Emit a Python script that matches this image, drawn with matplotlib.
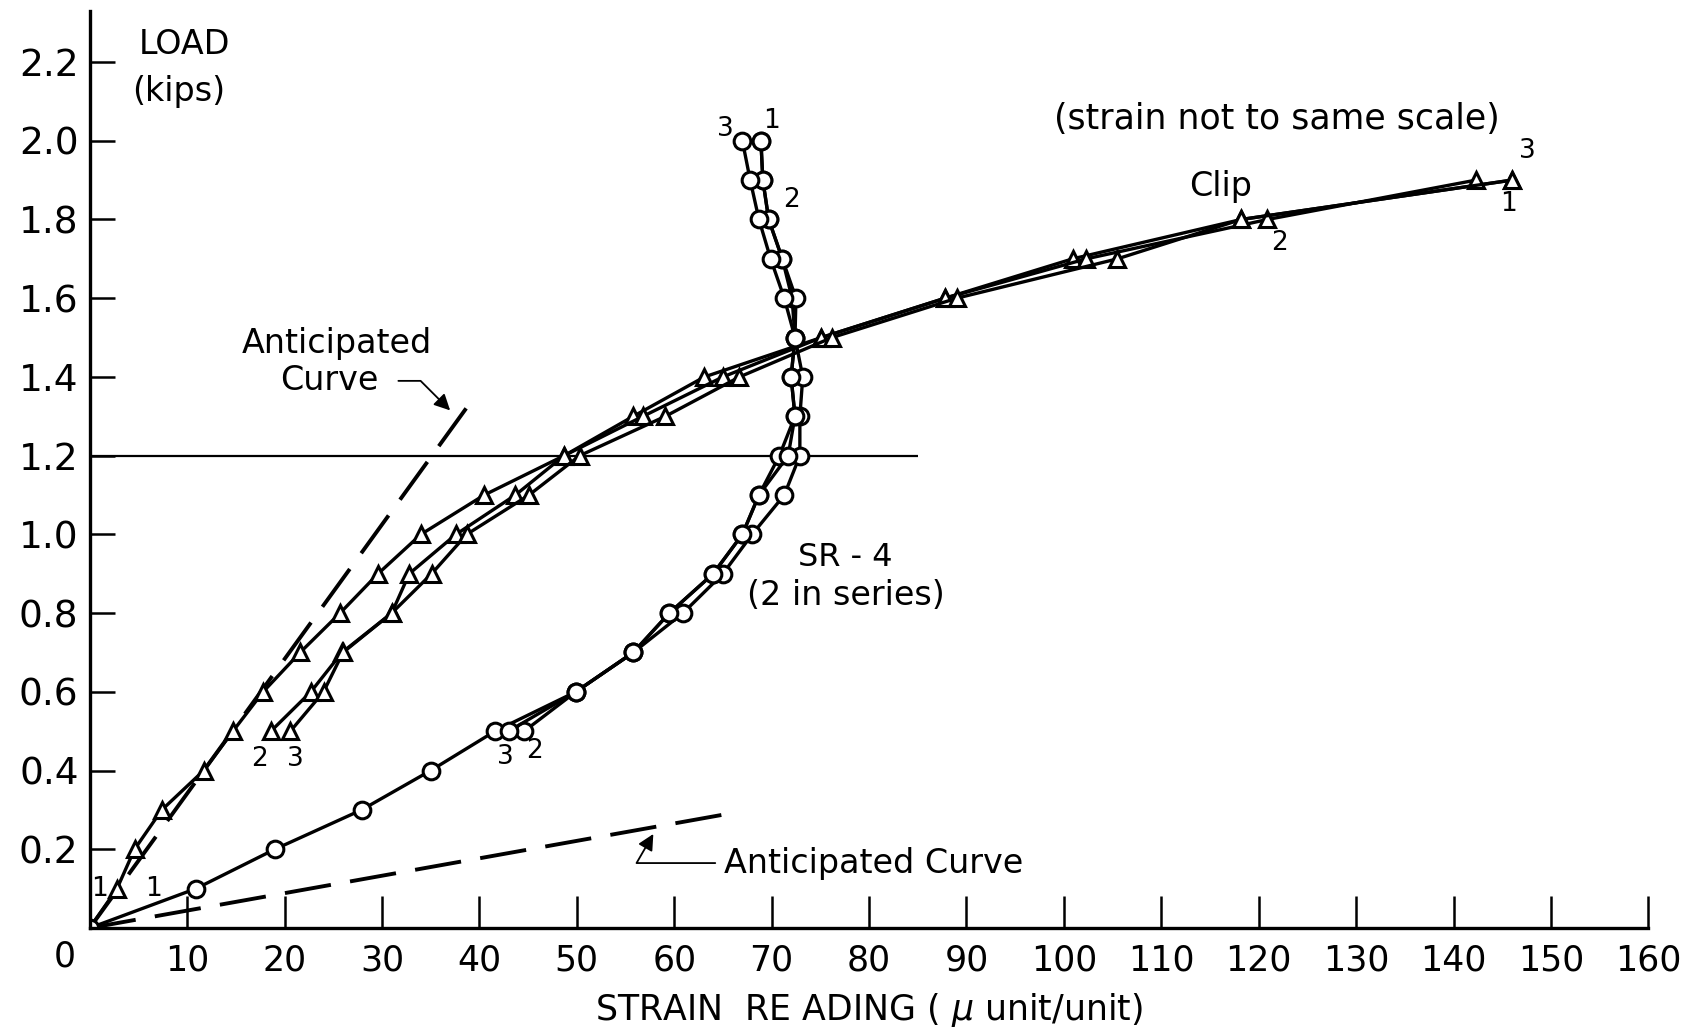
import numpy as np
import matplotlib.pyplot as plt

# load steps (kips)
load_full = [0, 0.1, 0.2, 0.3, 0.4, 0.5, 0.6, 0.7, 0.8, 0.9, 1.0,
             1.1, 1.2, 1.3, 1.4, 1.5, 1.6, 1.7, 1.8, 1.9, 2.0]

# Clip gage readings (triangles), cycles 1-3
clip_load1 = load_full[:20]
clip1 = [0, 2.8, 4.6, 7.4, 11.7, 14.7, 17.8, 21.6, 25.7, 29.6, 34.0,
         40.5, 48.7, 55.8, 63.1, 75.1, 87.8, 100.9, 118.2, 146.0]
clip_load23 = load_full[5:20]
clip2 = [18.6, 22.7, 25.9, 31.0, 32.8, 37.6, 43.7, 48.7, 56.8, 65.0,
         75.1, 87.8, 102.3, 120.9, 142.3]
clip3 = [20.6, 24.0, 26.0, 31.0, 35.1, 38.7, 45.1, 50.3, 59.1, 66.7,
         76.2, 89.0, 105.5, 118.2, 146.0]

# SR-4 gage readings (circles), cycles 1-3
sr_load1 = load_full
sr1 = [0, 10.9, 19.0, 27.9, 35.0, 41.6, 49.9, 55.8, 59.5, 64.0, 67.0,
       68.7, 70.8, 72.4, 72.0, 72.4, 72.1, 71.1, 69.7, 69.1, 68.9]
sr_load23 = load_full[5:]
sr2 = [44.6, 49.9, 55.8, 60.9, 65.0, 68.0, 71.3, 72.9, 72.9, 73.2,
       72.4, 72.5, 71.1, 69.7, 69.1, 68.9]
sr3 = [43.0, 49.9, 55.8, 59.5, 64.0, 67.0, 68.7, 71.7, 72.4, 72.0,
       72.4, 71.3, 69.9, 68.7, 67.8, 67.0]

# anticipated curves (straight dashed lines)
antic_steep_x = [0, 39.4]
antic_steep_y = [0, 1.346]
antic_flat_x = [0, 65.5]
antic_flat_y = [0, 0.29]

xticks = list(range(10, 170, 10))
yticks = [0.2, 0.4, 0.6, 0.8, 1.0, 1.2, 1.4, 1.6, 1.8, 2.0, 2.2]

plt.rcParams['font.family'] = ['DejaVu Sans']
narrow = ['Liberation Sans Narrow', 'DejaVu Sans']

fig = plt.figure(figsize=(16.96, 10.34), dpi=100)
ax = fig.add_axes([0.0529, 0.1025, 0.919, 0.887])
ax.set_xlim(0, 160)
ax.set_ylim(0, 2.33)

for s in ['top', 'right']:
    ax.spines[s].set_visible(False)
ax.spines['left'].set_linewidth(2.4)
ax.spines['bottom'].set_linewidth(2.4)

ax.set_xticks(xticks)
ax.set_xticklabels([str(t) for t in xticks], fontsize=25, family=narrow)
ax.set_yticks(yticks)
ax.set_yticklabels(['%.1f' % t for t in yticks], fontsize=27)
ax.tick_params(axis='x', direction='in', length=23, width=1.8, pad=11)
ax.tick_params(axis='y', direction='in', length=18, width=1.8, pad=8)
ax.text(-2.6, -0.03, '0', fontsize=25, ha='center', va='top', family=narrow)

ax.set_xlabel('STRAIN  RE ADING ( $\\mu$ unit/unit)', fontsize=25, labelpad=10,
              family=narrow)

# reference line at 1.2 kips
ax.hlines(1.2, 0, 85, color='black', lw=1.6)

# anticipated curves
ax.plot(antic_steep_x, antic_steep_y, color='black', lw=2.8, ls=(0, (12, 5)))
ax.plot(antic_flat_x, antic_flat_y, color='black', lw=2.8, ls=(0, (12, 5)))

mk = dict(color='black', lw=2.4, markersize=12, markerfacecolor='white',
          markeredgecolor='black', markeredgewidth=2.2)
ax.plot(clip1, clip_load1, marker='^', **mk)
ax.plot(clip2, clip_load23, marker='^', **mk)
ax.plot(clip3, clip_load23, marker='^', **mk)
ax.plot(sr1, sr_load1, marker='o', **mk)
ax.plot(sr2, sr_load23, marker='o', **mk)
ax.plot(sr3, sr_load23, marker='o', **mk)

# cycle numbers
lab = dict(fontsize=19, ha='center', va='center')
ax.text(1.0, 0.10, '1', **lab)
ax.text(6.5, 0.10, '1', **lab)
ax.text(17.4, 0.43, '2', **lab)
ax.text(21.1, 0.43, '3', **lab)
ax.text(42.7, 0.435, '3', **lab)
ax.text(45.7, 0.45, '2', **lab)
ax.text(65.3, 2.03, '3', **lab)
ax.text(70.0, 2.05, '1', **lab)
ax.text(72.0, 1.85, '2', **lab)
ax.text(147.6, 1.975, '3', **lab)
ax.text(145.6, 1.84, '1', **lab)
ax.text(122.1, 1.74, '2', **lab)

# labels
ax.text(5.0, 2.245, 'LOAD', fontsize=24, va='center')
ax.text(4.4, 2.125, '(kips)', fontsize=24, va='center')
ax.text(99.0, 2.055, '(strain not to same scale)', fontsize=25, va='center',
        family=narrow)
ax.text(112.9, 1.885, 'Clip', fontsize=24, va='center')
ax.text(25.4, 1.484, 'Anticipated', fontsize=24, ha='center', va='center')
ax.text(24.6, 1.39, 'Curve', fontsize=24, ha='center', va='center')
ax.text(77.6, 0.942, 'SR - 4', fontsize=23, ha='center', va='center')
ax.text(77.6, 0.846, '(2 in series)', fontsize=24, ha='center', va='center')
ax.text(65.1, 0.165, 'Anticipated Curve', fontsize=24, va='center')

ax.annotate('', xy=(37.2, 1.31), xytext=(31.4, 1.39),
            arrowprops=dict(arrowstyle='-|>', color='black', lw=1.3,
                            mutation_scale=24,
                            connectionstyle='angle,angleA=0,angleB=135,rad=0'))
ax.annotate('', xy=(58.0, 0.245), xytext=(64.5, 0.165),
            arrowprops=dict(arrowstyle='-|>', color='black', lw=1.3,
                            mutation_scale=24,
                            connectionstyle='angle,angleA=180,angleB=60,rad=0'))

fig.savefig('out.png', dpi=100)
